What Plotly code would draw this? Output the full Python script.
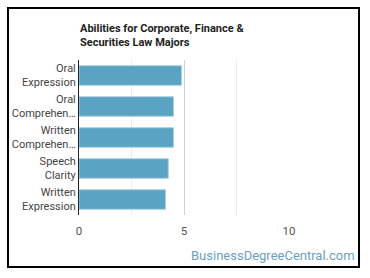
import plotly.graph_objects as go

categories = ["Oral<br>Expression", "Oral<br>Comprehen…", "Written<br>Comprehen…", "Speech<br>Clarity", "Written<br>Expression"]
values = [4.88, 4.5, 4.5, 4.25, 4.12]
x_ticks = [0, 5, 10]

W, H = 370, 278
L, R, T, B = 79, 81, 60, 63
pw, ph = W - L - R, H - T - B

def px(x):
    return (x - L) / pw

def py(y):
    return (H - B - y) / ph

fig = go.Figure(go.Bar(
    x=values, y=categories, orientation="h",
    marker=dict(color="#5ba3c3", line=dict(color="#a9d0e0", width=1)),
    width=0.63,
))

fig.update_layout(
    width=W, height=H,
    margin=dict(l=L, r=R, t=T, b=B, autoexpand=False),
    paper_bgcolor="white", plot_bgcolor="white",
    showlegend=False,
    font=dict(family="Roboto", size=11, color="#444"),
    xaxis=dict(range=[0, 10], tickvals=x_ticks, showgrid=True, gridcolor="#d0d0d0", gridwidth=1,
               minor=dict(tickvals=[2.5, 7.5], showgrid=True, gridcolor="#ececec", gridwidth=1),
               zeroline=False, showline=False, ticks="", ticklabelstandoff=7, automargin=False,
               tickfont=dict(size=11.5, color="#555")),
    yaxis=dict(autorange="reversed", showline=True, linecolor="#222", linewidth=1, ticks="",
               showgrid=False, automargin=False,
               tickfont=dict(size=11, color="#444")),
    shapes=[dict(type="rect", xref="paper", yref="paper",
                 x0=px(8), x1=px(359), y0=py(267), y1=py(8),
                 line=dict(color="black", width=2), fillcolor="rgba(0,0,0,0)")],
    annotations=[
        dict(text="<b>Abilities for Corporate, Finance &<br>Securities Law Majors</b>",
             xref="paper", yref="paper", x=px(78), y=py(20), xanchor="left", yanchor="top",
             align="left", showarrow=False, font=dict(family="Roboto", size=11, color="#222")),
        dict(text="BusinessDegreeCentral.com", xref="paper", yref="paper",
             x=px(357), y=py(255), xanchor="right", yanchor="middle", showarrow=False,
             font=dict(family="Roboto", size=13, color="#6d9fbf")),
    ],
)

fig.write_html("out.html")
